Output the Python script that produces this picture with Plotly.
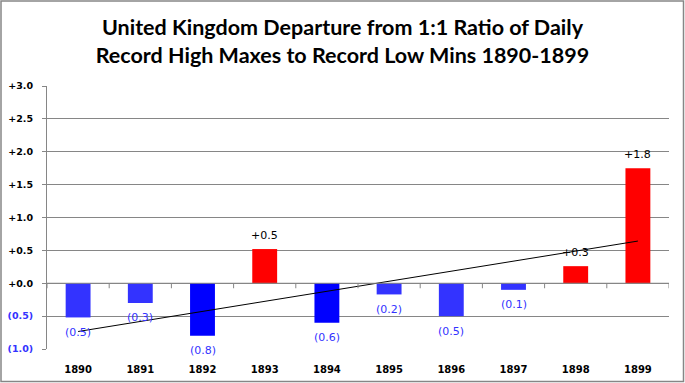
import numpy as np
import plotly.graph_objects as go

years = ["1890", "1891", "1892", "1893", "1894", "1895", "1896", "1897", "1898", "1899"]
values = [-0.52, -0.30, -0.80, 0.52, -0.60, -0.17, -0.50, -0.10, 0.26, 1.75]
bar_colors = ["#3333FF", "#3333FF", "#0000FF", "#FF0000", "#0000FF",
              "#3333FF", "#3333FF", "#3333FF", "#FF0000", "#FF0000"]
tick_vals = [3.0, 2.5, 2.0, 1.5, 1.0, 0.5, 0.0, -0.5, -1.0]

def fmt(v):
    return f"+{v:.1f}" if v >= 0 else f"({abs(v):.1f})"

labels = [fmt(v) for v in values]
label_colors = ["#000000" if v >= 0 else "#3333FF" for v in values]
tick_text = [fmt(v) if v >= 0 else f'<span style="color:#3333FF">{fmt(v)}</span>' for v in tick_vals]

xi = np.arange(len(years))
slope, intercept = np.polyfit(xi, values, 1)
trend = slope * xi + intercept

W, H = 685, 383
ml, mr, mt, mb = 47, 16, 86, 34
pw, ph = W - ml - mr, H - mt - mb

fig = go.Figure()
fig.add_trace(go.Bar(
    x=years, y=values, marker=dict(color=bar_colors, line=dict(width=0)),
    width=0.4, showlegend=False, hoverinfo="x+y",
))
fig.add_trace(go.Scatter(
    x=[years[0], years[-1]], y=[trend[0], trend[-1]],
    mode="lines", line=dict(color="black", width=1), showlegend=False,
))

annotations = []
for i, (v, t, c) in enumerate(zip(values, labels, label_colors)):
    annotations.append(dict(x=i, y=v, text=t, showarrow=False, xref="x", yref="y",
                            yshift=14 if v >= 0 else -15, yanchor="middle", xanchor="center",
                            font=dict(family="DejaVu Sans", size=11, color=c)))

shapes = [dict(type="line", xref="paper", yref="y", x0=0, x1=1, y0=0, y1=0,
               line=dict(color="#868686", width=1))]
for i in range(len(years) + 1):
    shapes.append(dict(type="line", xref="x", yref="y", ysizemode="pixel", yanchor=0,
                       x0=i - 0.5, x1=i - 0.5, y0=0, y1=-5,
                       line=dict(color="#868686", width=1)))
shapes.append(dict(type="rect", xref="paper", yref="paper",
                   x0=-(ml - 1) / pw, x1=1 + (mr - 1.5) / pw,
                   y0=-(mb - 1.5) / ph, y1=1 + (mt - 1) / ph,
                   line=dict(color="#868686", width=1.5)))

fig.update_layout(
    width=W, height=H, margin=dict(l=ml, r=mr, t=mt, b=mb, autoexpand=False),
    paper_bgcolor="white", plot_bgcolor="white",
    title=dict(text="United Kingdom Departure from 1:1 Ratio of Daily<br>Record High Maxes to Record Low Mins 1890-1899",
               font=dict(family="Lato", size=21.5, color="black", weight="bold"),
               x=0.5, xanchor="center", xref="container", y=1 - 35 / H, yanchor="top", yref="container"),
    xaxis=dict(type="category", range=[-0.5, len(years) - 0.5], showgrid=False, showline=False,
               ticks="", ticklabelstandoff=13, automargin=False,
               tickfont=dict(family="DejaVu Sans", size=10, color="black", weight="bold")),
    yaxis=dict(range=[-1, 3], tickmode="array", tickvals=tick_vals, ticktext=tick_text,
               showgrid=True, gridcolor="rgb(134,134,134)", gridwidth=1, griddash="solid",
               zeroline=False, showline=True, linecolor="#868686", linewidth=1,
               ticks="outside", ticklen=4, tickcolor="#868686", ticklabelstandoff=7,
               automargin=False,
               tickfont=dict(family="DejaVu Sans", size=9.5, color="black", weight="bold")),
    shapes=shapes, annotations=annotations, bargap=0.6,
)
fig.write_html("out.html", config={"displayModeBar": False},
               post_script="document.body.style.margin='0';")
